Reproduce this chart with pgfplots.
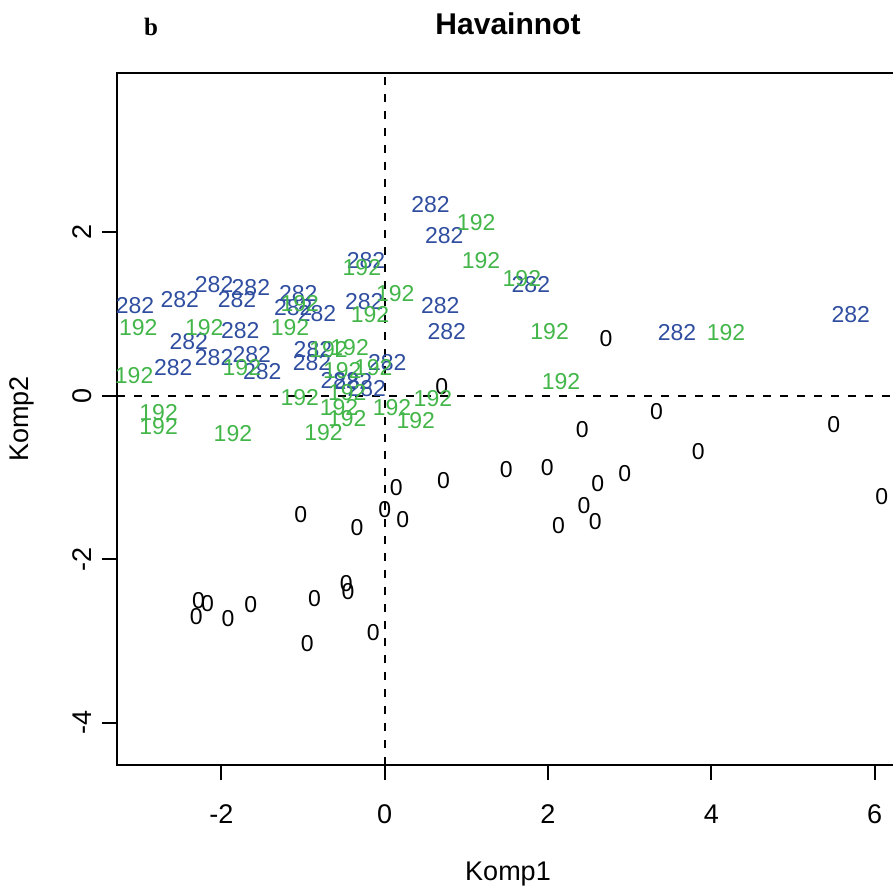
\documentclass[border=0pt]{standalone}
\usepackage{fontspec}
\setmainfont{Liberation Sans}
\newfontfamily\timesfont{Liberation Serif}
\usepackage{pgfplots}
\pgfplotsset{compat=1.18}
\definecolor{obsblue}{RGB}{48,78,160}
\definecolor{obsgreen}{RGB}{67,182,73}

% group 0
\pgfplotstableread{
x y
2.71 0.70
0.70 0.11
3.33 -0.20
5.50 -0.35
2.42 -0.41
3.84 -0.68
1.49 -0.91
1.99 -0.88
2.94 -0.95
2.61 -1.08
6.09 -1.24
2.44 -1.35
2.58 -1.54
2.13 -1.59
0.72 -1.04
0.14 -1.12
0.00 -1.39
0.22 -1.51
-1.03 -1.45
-0.34 -1.62
-0.47 -2.30
-0.45 -2.40
-0.86 -2.48
-1.64 -2.56
-2.28 -2.51
-2.17 -2.54
-2.31 -2.70
-1.92 -2.73
-0.14 -2.90
-0.95 -3.03
}\grpzero

% group 282
\pgfplotstableread{
x y
-3.06 1.10
-2.51 1.18
-2.09 1.36
-1.64 1.32
-1.81 1.18
-1.06 1.25
-1.12 1.08
-0.83 1.01
-0.25 1.15
-0.23 1.66
-1.77 0.80
-2.40 0.66
-2.59 0.35
-2.09 0.47
-1.63 0.50
-1.50 0.29
-0.88 0.56
-0.89 0.41
0.03 0.40
-0.55 0.19
-0.39 0.17
-0.22 0.09
0.56 2.34
0.73 1.96
1.79 1.36
0.68 1.10
0.76 0.79
3.58 0.77
5.71 0.99
}\grpa

% group 192
\pgfplotstableread{
x y
-3.02 0.84
-1.04 1.13
-0.18 0.99
0.13 1.25
-0.28 1.57
-2.21 0.83
-1.16 0.83
-3.07 0.25
-1.75 0.35
-0.69 0.56
-0.43 0.59
-0.52 0.31
-0.14 0.35
-2.77 -0.21
-2.77 -0.38
-1.86 -0.46
-1.04 -0.02
-0.75 -0.45
-0.46 0.04
-0.56 -0.15
-0.46 -0.28
0.09 -0.15
0.38 -0.31
0.59 -0.03
1.12 2.12
1.18 1.65
1.68 1.43
2.02 0.79
4.18 0.77
2.16 0.17
}\grpb

\begin{document}
\begin{tikzpicture}
\useasboundingbox (-58.5pt,-61.5pt) rectangle (388pt,382.5pt);
\begin{axis}[
  at={(0pt,0pt)}, anchor=south west,
  scale only axis, width=391pt, height=346pt,
  xmin=-3.28, xmax=6.30, ymin=-4.52, ymax=3.95,
  clip=false,
  axis line style={line width=1pt},
  every tick/.style={black, line width=1pt},
  tick align=outside, major tick length=7.5pt,
  tick pos=left,
  xtick={-2,0,2,4,6}, ytick={-4,-2,0,2},
  /pgf/number format/assume math mode=true,
  tick label style={font=\fontsize{13.5}{16}\selectfont},
  xticklabel style={anchor=center, yshift=-17pt},
  yticklabel style={rotate=90, anchor=center, yshift=10pt},
  xlabel={Komp1}, ylabel={Komp2},
  label style={font=\fontsize{13.5}{16}\selectfont},
  xlabel style={at={(axis description cs:0.5,0)}, anchor=center, yshift=-54.5pt},
  ylabel style={at={(axis description cs:0,0.5)}, anchor=center, yshift=47.5pt},
  title={Havainnot},
  title style={at={(axis description cs:0.5,1)}, anchor=center, yshift=18.5pt,
    font=\bfseries\fontsize{15}{18}\selectfont},
  every node near coord/.style={anchor=center, inner sep=0pt,
    font=\fontsize{11.5}{13}\selectfont},
]
\addplot[black, dashed, line width=1pt, dash pattern=on 4pt off 4.5pt]
  coordinates {(0,-4.52) (0,3.95)};
\addplot[black, dashed, line width=1pt, dash pattern=on 4pt off 4.5pt]
  coordinates {(-3.28,0) (6.30,0)};
\addplot[only marks, mark=none, nodes near coords={0},
  every node near coord/.append style={text=black}] table {\grpzero};
\addplot[only marks, mark=none, nodes near coords={282},
  every node near coord/.append style={text=obsblue}] table {\grpa};
\addplot[only marks, mark=none, nodes near coords={192},
  every node near coord/.append style={text=obsgreen}] table {\grpb};
\node[anchor=center, font=\timesfont\bfseries\fontsize{12.5}{15}\selectfont]
  at ([xshift=17pt, yshift=23pt]rel axis cs:0,1) {b};
\end{axis}
\end{tikzpicture}
\end{document}
